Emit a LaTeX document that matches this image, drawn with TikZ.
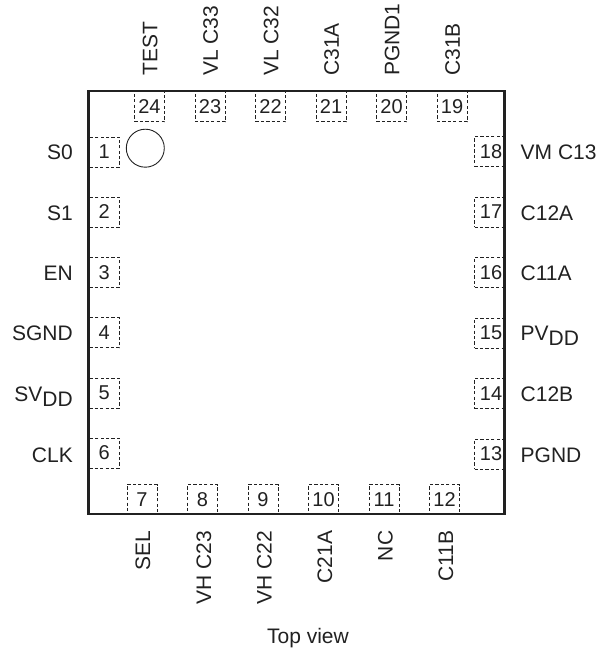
\documentclass[tikz,border=0pt]{standalone}
\usepackage{fontspec}
\setmainfont{Liberation Sans}
\definecolor{ink}{gray}{0.13}
\newcommand{\lowdd}{\raisebox{-5pt}{DD}}
\tikzset{
  x=1pt,y=-1pt,
  pinbox/.style={draw=ink,dash pattern=on 3.2pt off 2.2pt,line width=1pt,minimum width=30pt,minimum height=30pt,inner sep=0pt,text=ink,font=\fontsize{20}{20}\selectfont},
  lab/.style={inner sep=0pt,text=ink,font=\fontsize{21}{21}\selectfont},
  vlab/.style={lab,rotate=90},
}
\begin{document}
\begin{tikzpicture}
\useasboundingbox (0,0) rectangle (597,650);
% left
\foreach \n/\cy/\by/\t in {1/152/159/S0,2/212/220/S1,3/272.4/280.5/EN,4/332.8/340.7/SGND,5/393/401.5/{SV\lowdd},6/453/462.3/CLK}{
  \node[pinbox] (p\n) at (104.3,\cy) {\n};
  \node[lab,anchor=base east] (l\n) at (73,\by) {\t};
}
% right
\foreach \n/\cy/\by/\t in {18/151.7/159/VM C13,17/212/220/C12A,16/272.4/280.5/C11A,15/333/340.7/{PV\lowdd},14/393.5/401.5/C12B,13/454/462.3/PGND}{
  \node[pinbox] (p\n) at (489.5,\cy) {\hspace{3pt}\n};
  \node[lab,anchor=base west] (l\n) at (520.5,\by) {\t};
}
% top
\foreach \n/\cx/\bx/\t in {24/149.5/157.3/TEST,23/210/217.8/VL C33,22/270.5/278.3/VL C32,21/331/338.8/C31A,20/391.5/399.3/PGND1,19/452/459.8/C31B}{
  \node[pinbox] (p\n) at (\cx,107) {\n};
  \node[vlab,anchor=base west] (l\n) at (\bx,76) {\t};
}
% bottom
\foreach \n/\cx/\bx/\t in {7/142/150/SEL,8/202.5/211/VH C23,9/263/271.5/VH C22,10/323.5/332/C21A,11/384/392.5/NC,12/444.5/453/C11B}{
  \node[pinbox] (p\n) at (\cx,499.5) {\n};
  \node[vlab,anchor=base east] (l\n) at (\bx,530.5) {\t};
}
\node[draw=ink,line width=2.6pt,minimum width=416pt,minimum height=423pt,inner sep=0pt] (pkg) at (296.7,302.5) {};
\node[draw=ink,circle,line width=0.9pt,minimum size=38pt,inner sep=0pt] (dot) at (145.3,148.2) {};
\node[lab,anchor=base] (cap) at (308,643) {Top view};
\end{tikzpicture}
\end{document}
